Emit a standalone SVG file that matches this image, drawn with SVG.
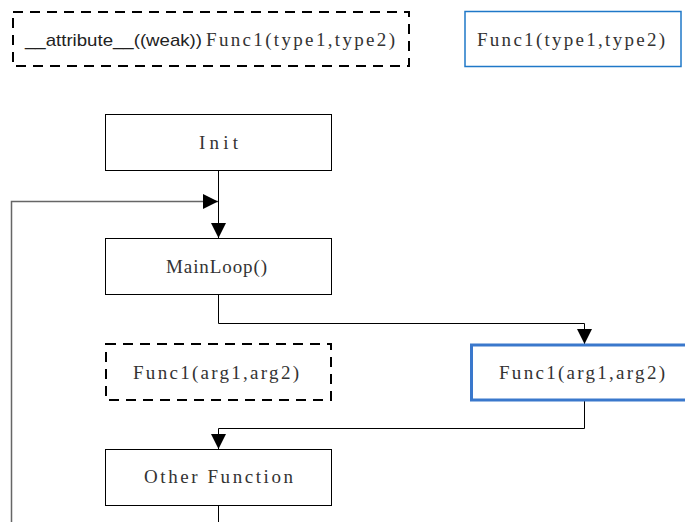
<svg xmlns="http://www.w3.org/2000/svg" width="685" height="522" viewBox="0 0 685 522">
  <style>
    .box { fill: #ffffff; stroke: #000000; stroke-width: 1; }
    .dash { fill: #ffffff; stroke: #000000; stroke-width: 2; stroke-dasharray: 10 7; }
    .blue { fill: #ffffff; stroke: #1f78c8; stroke-width: 1.5; }
    .blue-thick { fill: #ffffff; stroke: #3a78cc; stroke-width: 3; }
    .code { font-family: "Liberation Serif", "Times New Roman", serif; font-size: 19px; fill: #333333; }
    .sans { font-family: "Liberation Sans", Arial, sans-serif; font-size: 17px; fill: #222222; }
    .wire { fill: none; stroke: #000000; stroke-width: 1; }
    .wire-gray { fill: none; stroke: #666666; stroke-width: 1.5; }
  </style>
  <defs>
    <marker id="arrow" viewBox="0 0 10 10" refX="10" refY="5" markerWidth="15" markerHeight="15" markerUnits="userSpaceOnUse" orient="auto">
      <path d="M0,0 L10,5 L0,10 Z" fill="#000000"/>
    </marker>
  </defs>

  <rect width="685" height="522" fill="#ffffff"/>

  <g id="connectors">
    <path class="wire" d="M218.5,170 V238" marker-end="url(#arrow)"/>
    <path class="wire-gray" d="M11.5,522 V201.5 H218" marker-end="url(#arrow)"/>
    <path class="wire" d="M218.5,294 V323.5 H584.5 V344" marker-end="url(#arrow)"/>
    <path class="wire" d="M584.5,400 V428.5 H218.5 V449" marker-end="url(#arrow)"/>
    <path class="wire" d="M218.5,505 V522"/>
  </g>

  <g id="weak-decl">
    <rect class="dash" x="13" y="12" width="396" height="54"/>
    <text class="sans" x="25" y="46" textLength="177" lengthAdjust="spacingAndGlyphs">__attribute__((weak))</text>
    <text class="code" x="206" y="46" textLength="189" lengthAdjust="spacing">Func1(type1,type2)</text>
  </g>

  <g id="strong-decl">
    <rect class="blue" x="465" y="11.5" width="216" height="55"/>
    <text class="code" x="477" y="46" textLength="188" lengthAdjust="spacing">Func1(type1,type2)</text>
  </g>

  <g id="init">
    <rect class="box" x="105.5" y="114.5" width="226" height="56"/>
    <text class="code" x="199" y="149" textLength="39" lengthAdjust="spacing">Init</text>
  </g>

  <g id="mainloop">
    <rect class="box" x="105.5" y="238.5" width="226" height="56"/>
    <text class="code" x="166" y="273" textLength="101" lengthAdjust="spacing">MainLoop()</text>
  </g>

  <g id="weak-call">
    <rect class="dash" x="106" y="344" width="225" height="56"/>
    <text class="code" x="133" y="379" textLength="166" lengthAdjust="spacing">Func1(arg1,arg2)</text>
  </g>

  <g id="strong-call">
    <rect class="blue-thick" x="471.5" y="345" width="220" height="55"/>
    <text class="code" x="499" y="379" textLength="166" lengthAdjust="spacing">Func1(arg1,arg2)</text>
  </g>

  <g id="other-function">
    <rect class="box" x="105.5" y="449.5" width="226" height="56"/>
    <text class="code" x="144" y="483" textLength="149" lengthAdjust="spacing">Other Function</text>
  </g>
</svg>
